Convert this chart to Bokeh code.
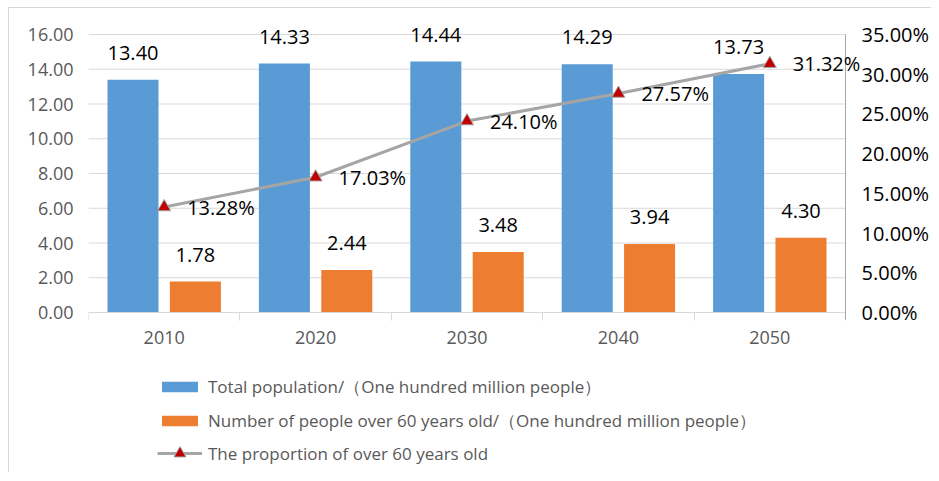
import numpy as np
from bokeh.plotting import figure
from bokeh.models import (ColumnDataSource, Range1d, LinearAxis, FixedTicker,
                          PrintfTickFormatter, LabelSet, Legend, LegendItem)
from bokeh.core.properties import value
from bokeh.embed import file_html
from bokeh.resources import INLINE

years = ["2010", "2020", "2030", "2040", "2050"]
total_pop = [13.40, 14.33, 14.44, 14.29, 13.73]
over60 = [1.78, 2.44, 3.48, 3.94, 4.30]
proportion = [13.28, 17.03, 24.10, 27.57, 31.32]
left_ticks = [0, 2, 4, 6, 8, 10, 12, 14, 16]
right_ticks = [0, 5, 10, 15, 20, 25, 30, 35]
series_names = ["Total population/（One hundred million people）",
                "Number of people over 60 years old/（One hundred million people）",
                "The proportion of over 60 years old"]

FONT = "Open Sans"
BLUE = "#5B9BD5"
ORANGE = "#ED7D31"
LINE = "#A5A5A5"
RED = "#C00000"
GRID = "#D9D9D9"
TXT = "#595959"

# geometry (pixels inside the figure)
W, H = 923, 465
LEFT = 79            # left edge of plotting area
CAT_W = 151.4        # width of one category
Y0, Y16 = 304, 26    # pixel rows of value 0 and 16
ppu = (Y0 - Y16) / 16.0
ppu_pct = (Y0 - Y16) / 35.0
n = len(years)

xs = np.arange(n) + 0.5
src = ColumnDataSource(dict(
    x=xs, xb=xs - 0.206, xo=xs + 0.206,
    total=total_pop, over=over60, pct=proportion,
    total_lbl=[f"{v:.2f}" for v in total_pop],
    over_lbl=[f"{v:.2f}" for v in over60],
    pct_lbl=[f"{v:.2f}%" for v in proportion],
))

p = figure(width=W, height=H, output_backend="svg", toolbar_location=None,
           x_range=Range1d(0, (W - LEFT) / CAT_W),
           y_range=Range1d(-(H - Y0) / ppu, Y0 / ppu),
           min_border_left=LEFT, min_border_right=0, min_border_top=0,
           min_border_bottom=0)
p.styles = {"border-left": "1px solid #d9d9d9", "border-top": "1px solid #d9d9d9",
            "margin-left": "8px", "margin-top": "7px"}
p.outline_line_color = None
p.background_fill_color = "white"
p.border_fill_color = "white"
p.extra_y_ranges = {"pct": Range1d(-(H - Y0) / ppu_pct, Y0 / ppu_pct)}

# grid lines (only across the category area)
p.xgrid.visible = False
p.ygrid.visible = False
p.segment(x0=[0] * len(left_ticks), x1=[n] * len(left_ticks), y0=left_ticks, y1=left_ticks,
          line_color=GRID, line_width=1)

# left axis
ya = p.yaxis[0]
ya.ticker = FixedTicker(ticks=left_ticks)
ya.formatter = PrintfTickFormatter(format="%.2f")
ya.axis_line_color = None
ya.major_tick_line_color = None
ya.minor_tick_line_color = None
ya.major_tick_out = 0
ya.major_tick_in = 0
ya.major_label_standoff = 15
ya.major_label_text_font = FONT
ya.major_label_text_font_size = "18px"
ya.major_label_text_color = TXT

# right axis, at the end of the category area
ra = LinearAxis(y_range_name="pct", fixed_location=n, bounds=(-0.9, 35),
                ticker=FixedTicker(ticks=right_ticks),
                formatter=PrintfTickFormatter(format="%.2f%%"))
ra.axis_line_color = "#A6A6A6"
ra.axis_line_width = 1
ra.major_tick_line_color = None
ra.minor_tick_line_color = None
ra.major_tick_out = 0
ra.major_tick_in = 0
ra.major_label_standoff = 16
ra.major_label_text_font = FONT
ra.major_label_text_font_size = "20px"
ra.major_label_text_color = "black"
p.add_layout(ra, "right")

# bottom axis at value 0
xa = p.xaxis[0]
xa.fixed_location = 0
xa.bounds = (0, n)
xa.ticker = FixedTicker(ticks=list(xs), minor_ticks=list(range(n + 1)))
xa.major_label_overrides = {float(x): y for x, y in zip(xs, years)}
xa.axis_line_color = GRID
xa.major_tick_line_color = None
xa.major_tick_out = 8
xa.major_tick_in = 0
xa.minor_tick_line_color = GRID
xa.minor_tick_out = 8
xa.minor_tick_in = 0
xa.major_label_standoff = 10
xa.major_label_text_font = FONT
xa.major_label_text_font_size = "18px"
xa.major_label_text_color = TXT

# bars
rb = p.vbar(x="xb", top="total", width=0.337, source=src, fill_color=BLUE, line_color=None)
ro = p.vbar(x="xo", top="over", width=0.337, source=src, fill_color=ORANGE, line_color=None)

# line
rl = p.line(x="x", y="pct", source=src, y_range_name="pct", line_color=LINE, line_width=3)
rm = p.scatter(x="x", y="pct", source=src, y_range_name="pct", marker="triangle",
               size=13, fill_color=RED, line_color=LINE, line_width=1)

# data labels
lab_kw = dict(text_font=value(FONT), text_font_size="20px", text_color="black")
p.add_layout(LabelSet(x="xb", y="total", text="total_lbl", source=src, text_align="center",
                      text_baseline="middle", y_offset=27, **lab_kw))
p.add_layout(LabelSet(x="xo", y="over", text="over_lbl", source=src, text_align="center",
                      text_baseline="middle", y_offset=27, **lab_kw))
p.add_layout(LabelSet(x="x", y="pct", text="pct_lbl", source=src, y_range_name="pct",
                      text_align="left", text_baseline="middle", x_offset=23, **lab_kw))


def style_legend(lg, glyph_h):
    lg.border_line_color = None
    lg.background_fill_alpha = 0
    lg.padding = 0
    lg.margin = 0
    lg.glyph_width = 45
    lg.glyph_height = glyph_h
    lg.label_height = 25
    lg.label_standoff = 6
    lg.spacing = 9
    lg.label_text_font = FONT
    lg.label_text_font_size = "17px"
    lg.label_text_color = TXT


# legends (bars, then the line with a larger marker)
legend1 = Legend(items=[
    LegendItem(label=series_names[0], renderers=[rb]),
    LegendItem(label=series_names[1], renderers=[ro]),
], location=(69, 40), orientation="vertical")
style_legend(legend1, 13)
p.add_layout(legend1, "center")

legend2 = Legend(items=[
    LegendItem(label=series_names[2], renderers=[rl, rm]),
], location=(69, 5), orientation="vertical")
style_legend(legend2, 30)
p.add_layout(legend2, "center")

open("out.html", "w").write(file_html(p, INLINE))
